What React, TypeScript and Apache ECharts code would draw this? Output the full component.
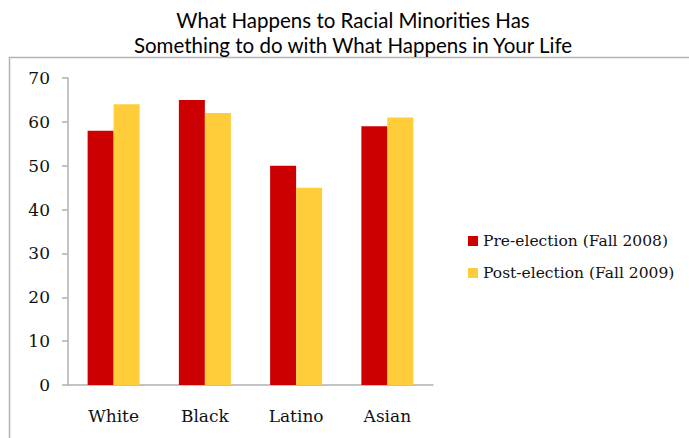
import React, { useEffect, useRef } from "react";
import * as echarts from "echarts";

const categories = ["White", "Black", "Latino", "Asian"];
const preElection = [58, 65, 50, 59];
const postElection = [64, 62, 45, 61];
const seriesNames = ["Pre-election (Fall 2008)", "Post-election (Fall 2009)"];
const titleLines = [
  "What Happens to Racial Minorities Has",
  "Something to do with What Happens in Your Life",
];

export default function App() {
  const ref = useRef<HTMLDivElement>(null);
  useEffect(() => {
    if (!ref.current) return;
    const chart = echarts.init(ref.current, null, { renderer: "svg" });
    const serif = "DejaVu Serif";
    chart.setOption({
      animation: false,
      backgroundColor: "#ffffff",
      graphic: [
        {
          type: "rect",
          shape: { x: 9.5, y: 57.5, width: 700, height: 420 },
          style: { fill: "none", stroke: "#b3b3b3", lineWidth: 1.5 },
          silent: true,
        },
        {
          type: "text",
          x: 353,
          y: 20,
          style: {
            text: titleLines[0],
            fontFamily: "Lato",
            fontSize: 20.5,
            fill: "#000",
            textAlign: "center",
            textVerticalAlign: "middle",
          },
        },
        {
          type: "text",
          x: 353,
          y: 45,
          style: {
            text: titleLines[1],
            fontFamily: "Lato",
            fontSize: 20.5,
            fill: "#000",
            textAlign: "center",
            textVerticalAlign: "middle",
          },
        },
      ],
      legend: {
        orient: "vertical",
        left: 463,
        top: 228,
        itemWidth: 10,
        itemHeight: 10,
        itemGap: 16,
        icon: "rect",
        textStyle: { fontFamily: serif, fontSize: 15.5, color: "#111" },
        data: seriesNames,
      },
      grid: { left: 68, top: 78, width: 365, bottom: 53, containLabel: false },
      xAxis: {
        type: "category",
        data: categories,
        axisLine: { lineStyle: { color: "#b0b0b0", width: 1.5 } },
        axisTick: { show: false },
        axisLabel: {
          fontFamily: serif,
          fontSize: 17,
          color: "#111",
          margin: 22,
        },
      },
      yAxis: {
        type: "value",
        min: 0,
        max: 70,
        interval: 10,
        splitLine: { show: false },
        axisLine: { show: true, lineStyle: { color: "#b0b0b0", width: 1.5 } },
        axisTick: { show: true, length: 6, lineStyle: { color: "#b0b0b0", width: 1.5 } },
        axisLabel: {
          fontFamily: serif,
          fontSize: 17,
          color: "#111",
          margin: 18,
        },
      },
      series: [
        {
          name: seriesNames[0],
          type: "bar",
          data: preElection,
          itemStyle: { color: "#cc0000" },
          barGap: "0%",
          barCategoryGap: "43%",
        },
        {
          name: seriesNames[1],
          type: "bar",
          data: postElection,
          itemStyle: { color: "#ffcc3a" },
        },
      ],
    });
    return () => chart.dispose();
  }, []);
  return <div ref={ref} style={{ width: 689, height: 438, position: "absolute", left: 0, top: 0 }} />;
}
